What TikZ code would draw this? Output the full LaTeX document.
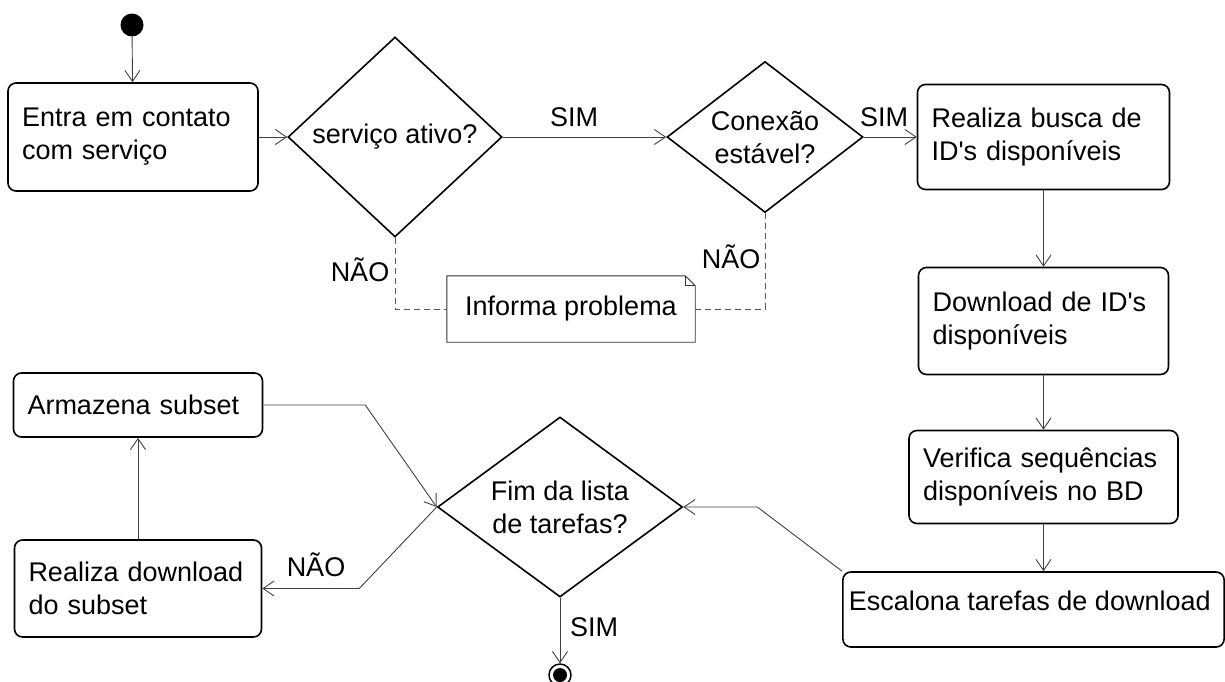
\documentclass[tikz,border=0pt]{standalone}
\usepackage{fontspec}
\setmainfont{Liberation Sans}
\usepackage{tikz}
\usetikzlibrary{arrows.meta,shapes.geometric}
\newcommand{\rotulo}{\fontsize{27}{33}\selectfont}
\tikzset{
  acao/.style={
    draw,
    rounded corners=8pt,
    line width=1.6pt,
    align=left,
    inner xsep=14pt,
    inner ysep=0pt,
    font=\rotulo
  },
  decisao/.style={
    draw,
    diamond,
    aspect=1.3,
    line width=1.6pt,
    inner sep=0pt,
    align=center,
    font=\rotulo
  },
  nota/.style={
    inner sep=0pt,
    minimum width=248pt,
    minimum height=66pt,
    font=\rotulo
  },
  borda/.style={
    line width=0.9pt,
    black!80
  },
  seta/.style={
    -{Straight Barb[length=11pt,width=15pt]},
    line width=0.9pt,
    black!75
  },
  tracejado/.style={
    dash pattern=on 6pt off 4pt,
    line width=0.9pt,
    black!65
  },
  cond/.style={
    inner sep=0pt,
    font=\rotulo
  },
  inicio/.style={
    circle,
    fill=black,
    minimum size=23pt,
    inner sep=0pt
  },
  estadofinal/.style={
    circle,
    draw,
    line width=1.5pt,
    minimum size=22pt,
    inner sep=0pt,
    path picture={\fill (path picture bounding box.center) circle (7pt);}
  }
}

\begin{document}
\begin{tikzpicture}[x=1pt, y=-1pt]

\useasboundingbox (0,0) rectangle (1225,681);

\node[inicio] (inicio) at (132,25) {};

\node[acao, text width=222pt, minimum height=108pt] (entra) at (133,137) {
Entra em contato\\
com serviço
};

\node[decisao, minimum width=214pt, minimum height=200pt] (servico) at (395,137) {serviço ativo?};

\node[decisao, minimum width=196pt, minimum height=151pt] (conexao) at (765,137) {Conexão\\estável?};

\node[acao, text width=224pt, minimum height=105pt] (busca) at (1043.5,137) {
Realiza busca de\\
ID\textquotesingle s disponíveis
};

\node[acao, text width=222pt, minimum height=107pt] (download) at (1043.5,321) {
Download de ID\textquotesingle s\\
disponíveis
};

\node[acao, text width=241pt, minimum height=93pt] (verifica) at (1043.5,477) {
Verifica sequências\\
disponíveis no BD
};

\node[acao, inner xsep=6pt, minimum width=379pt, minimum height=75pt, text depth=18pt] (escalona) at (1033.5,609.5) {
Escalona tarefas de download
};

\node[decisao, minimum width=245pt, minimum height=180pt] (fimlista) at (560,507) {Fim da lista\\de tarefas?};

\node[acao, text width=221pt, minimum height=64pt] (armazena) at (138,405) {
Armazena subset
};

\node[acao, text width=219pt, minimum height=97pt] (realiza) at (138,588.5) {
Realiza download\\
do subset
};

\node[estadofinal] (fim) at (560,675) {};

% nota com canto dobrado
\node[nota] (informa) at (571,309) {Informa problema};
\draw[borda] (informa.south west) -- (informa.north west) -- ([xshift=-10pt]informa.north east)
  -- ([yshift=-10pt]informa.north east) -- (informa.south east) -- cycle;
\draw[borda] ([xshift=-10pt]informa.north east) |- ([yshift=-10pt]informa.north east);

% rotulos das condicoes
\node[cond] (simA) at (574,117) {SIM};
\node[cond] (simB) at (884,117) {SIM};
\node[cond] (naoA) at (360,270) {NÃO};
\node[cond] (naoB) at (731,257) {NÃO};
\node[cond] (naoC) at (316,565) {NÃO};
\node[cond] (simC) at (594,627) {SIM};

\draw[seta] (inicio) -- (entra);
\draw[seta] (entra.east) -- (servico.west);
\draw[seta] (servico.east) -- (conexao.west);
\draw[seta] (conexao.east) -- (busca.west);
\draw[seta] (busca) -- (download);
\draw[seta] (download) -- (verifica);
\draw[seta] (verifica.south) -- (verifica.south |- escalona.north);
\draw[seta] (escalona.north west) -- ([xshift=74pt]fimlista.east) -- (fimlista.east);
\draw[seta] (fimlista.west) -- ([xshift=97pt]realiza.east) -- (realiza.east);
\draw[seta] (realiza) -- (armazena);
\draw[seta] (armazena.east) -- ([xshift=102pt]armazena.east) -- (fimlista.west);
\draw[seta] (fimlista) -- (fim);
\draw[tracejado] (servico.south) |- (informa.west);
\draw[tracejado] (conexao.south) |- (informa.east);

\end{tikzpicture}
\end{document}
